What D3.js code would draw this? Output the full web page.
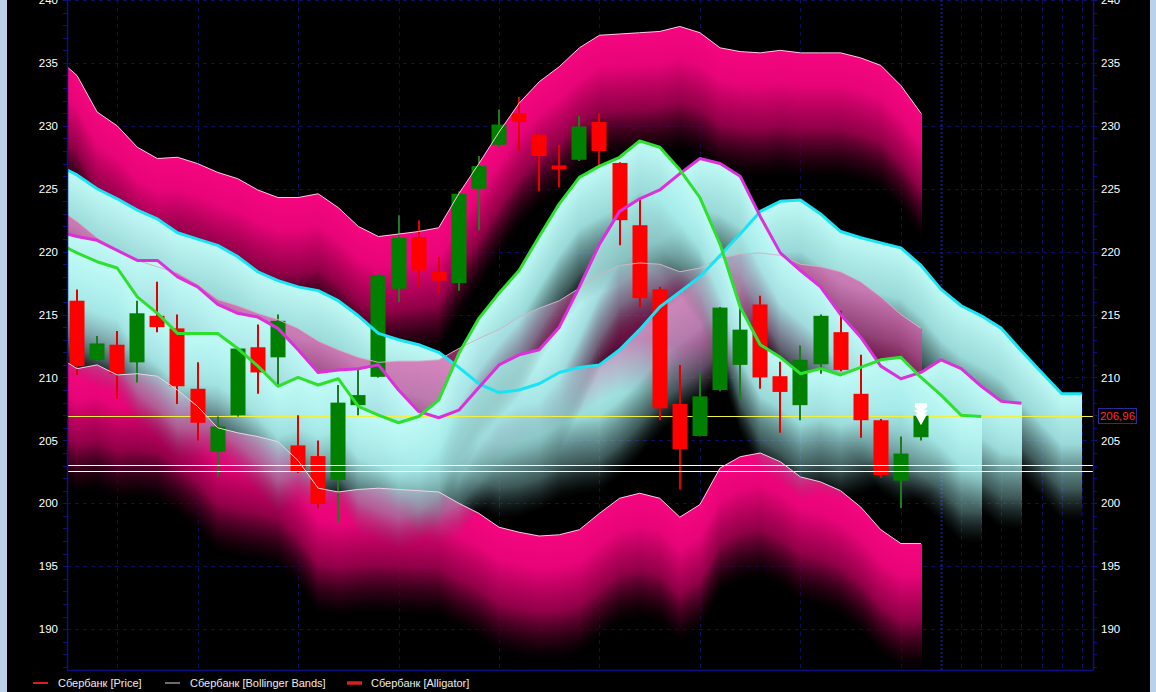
<!DOCTYPE html>
<html><head><meta charset="utf-8">
<script src="https://cdn.jsdelivr.net/npm/d3@7"></script>
<style>
html,body{margin:0;padding:0;background:#000;overflow:hidden;}
svg{display:block;font-family:"Liberation Sans",Arial,sans-serif;}
</style></head><body>
<svg id="c" width="1156" height="692"></svg>
<script>
// ---------------- DATA ----------------
// candles, bar index 0..42
const open  = [216.1,211.4,212.6,211.2,214.9,213.9,209.1,204.1,207.0,212.4,211.6,204.6,203.75,201.85,207.8,210.05,217.05,221.15,218.4,217.5,225.0,228.5,231.0,229.3,226.85,227.3,230.3,227.05,222.1,217.0,207.9,205.35,209.0,211.0,215.8,210.1,207.8,211.05,213.6,208.7,206.6,201.8,205.25];
const high  = [217.0,213.3,213.7,216.1,217.6,215.0,211.2,206.9,212.4,214.2,215.0,207.0,205.0,209.4,210.6,218.3,222.9,222.5,219.6,224.8,227.6,231.3,232.3,229.4,228.5,230.8,231.0,227.1,224.1,217.2,211.0,210.4,215.6,215.5,216.5,211.25,212.55,215.0,215.3,211.8,206.7,205.3,207.1];
const low   = [210.2,211.3,208.3,209.6,213.6,207.9,205.0,202.1,206.9,208.7,209.3,202.4,199.6,198.5,207.0,210.0,216.0,217.2,216.7,216.9,221.7,228.3,228.0,224.8,225.1,227.2,226.7,220.5,215.6,206.6,201.1,205.3,208.9,208.3,209.1,205.6,206.6,210.3,210.5,205.2,202.0,199.6,205.0];
const close = [210.9,212.7,210.3,215.1,214.0,209.3,206.4,206.1,212.3,210.4,214.5,202.5,199.95,208.0,208.6,218.1,221.1,218.5,217.7,224.6,226.8,230.1,230.3,227.6,226.55,229.95,228.0,222.5,216.3,207.55,204.3,208.5,215.55,213.8,210.0,208.85,211.4,214.9,210.6,206.6,202.25,203.95,206.96];

// Bollinger Bands, bar index -1..42
const bbUpper  = [235.4,234.0,231.1,230.0,228.3,227.4,227.5,227.0,226.3,225.8,224.9,224.3,224.3,224.6,223.5,222.0,221.2,221.4,221.6,221.9,224.6,227.0,229.5,231.8,233.5,234.7,236.2,237.2,237.3,237.4,237.5,237.9,237.4,236.2,235.9,235.8,236.0,235.8,235.8,235.8,235.4,234.8,233.2,231.0];
const bbMiddle = [223.5,222.4,221.1,220.1,219.3,218.8,218.3,217.4,216.2,215.7,215.1,214.6,213.9,212.9,212.2,211.6,211.2,211.3,211.3,211.4,212.3,213.1,213.8,214.8,215.5,216.1,217.1,218.2,218.9,219.1,219.0,218.4,218.7,219.5,219.8,219.9,219.7,219.0,218.8,218.4,217.6,216.4,215.0,213.9];
const bbLower  = [211.7,210.7,211.0,210.2,210.3,210.1,209.0,207.7,206.0,205.6,205.3,204.9,203.4,201.2,200.9,201.1,201.2,201.1,201.0,200.9,200.0,199.2,198.1,197.7,197.4,197.5,197.9,199.2,200.4,200.8,200.4,198.9,199.9,202.8,203.7,204.0,203.3,202.1,201.7,201.0,199.7,197.9,196.8,196.8];

// Alligator, bar index -1.. (shifted forward 8 / 5 / 3 bars)
const jaw   = [226.9,226.1,225.0,224.2,223.3,222.6,221.5,221.0,220.5,219.6,218.4,217.7,217.2,216.9,216.1,214.9,213.5,213.0,212.6,212.0,210.8,209.5,208.8,209.0,209.5,210.4,210.8,211.0,212.2,213.8,215.6,216.8,218.0,219.7,221.4,223.2,224.0,224.1,223.0,221.6,221.1,220.7,220.3,218.9,217.0,215.7,214.9,213.9,212.1,210.4,208.7,208.7];
const teeth = [221.6,221.2,220.9,220.1,219.3,219.3,218.0,217.2,215.8,215.1,214.8,213.9,212.2,210.4,210.6,210.7,211.0,209.0,207.3,206.8,207.4,209.2,211.0,211.8,212.2,214.0,217.2,220.6,223.2,224.2,224.9,226.2,227.4,227.0,226.0,222.8,219.9,218.5,217.2,215.0,213.2,210.9,209.9,210.4,211.4,210.7,209.3,208.1,207.95];
const lips  = [220.7,219.9,219.2,218.7,216.4,215.1,213.5,213.5,213.5,212.3,210.9,209.3,210.0,209.4,209.9,207.7,207.0,206.4,206.9,208.2,211.9,214.7,216.7,218.5,221.2,223.8,225.9,226.8,227.5,228.8,228.3,226.5,224.3,220.6,215.6,212.6,211.6,210.3,210.7,210.2,210.8,211.4,211.6,210.0,208.6,207.0,206.9];

const lastPrice = 206.96;
const levelLines = [203.05, 202.55];
const signalLevel = 207.95;           // white arrow marker on last bar
const yTickLabels = [190,195,200,205,210,215,220,225,230,235,240];
const gridBars = [2,6,11,16,21,26,31,36,41,43,44,45,46,47,48,49,50];
const legendLabels = ["Сбербанк [Price]","Сбербанк [Bollinger Bands]","Сбербанк [Alligator]"];

// ---------------- CHART ----------------
const svg = d3.select('#c');
const P = {left:67, right:1093, top:0, bottom:670};
const x = d3.scaleLinear().domain([0,42]).range([77,921]);
const y = d3.scaleLinear().domain([186.75,240]).range([670,0]);
const DEPTH = 127;

svg.append('rect').attr('width',1156).attr('height',692).attr('fill','#000');
svg.append('rect').attr('x',0).attr('y',0).attr('width',7).attr('height',692).attr('fill','#b9d1ea');
svg.append('rect').attr('x',1150).attr('y',0).attr('width',6).attr('height',692).attr('fill','#b9d1ea');

const defs = svg.append('defs');
defs.append('clipPath').attr('id','clip').append('rect')
  .attr('x',P.left).attr('y',P.top).attr('width',P.right-P.left).attr('height',P.bottom-P.top);
function grad(id, stops){
  const g = defs.append('linearGradient').attr('id',id).attr('x1',0).attr('y1',0).attr('x2',0).attr('y2',1);
  stops.forEach(s=>g.append('stop').attr('offset',s[0]).attr('stop-color',s[1]).attr('stop-opacity',s[2]));
}
grad('gPink',[[0,'#f4067e',1],[0.25,'#e80478',1],[0.6,'#a0004f',0.9],[0.85,'#380019',0.6],[1,'#100008',0]]);
grad('gCyan',[[0,'#c0faf6',1],[0.4,'#a6ecea',0.92],[0.75,'#7cb2b2',0.5],[1,'#405858',0]]);
grad('gMid',[[0,'#e8409f',0.62],[0.6,'#c8207f',0.5],[1,'#a01060',0]]);

// grid
const gridColor = '#0b0b60';
const grid = svg.append('g').attr('clip-path','url(#clip)');
grid.selectAll('line.h').data(yTickLabels).join('line')
  .attr('x1',P.left).attr('x2',P.right).attr('y1',d=>Math.round(y(d))+0.5).attr('y2',d=>Math.round(y(d))+0.5)
  .attr('stroke',gridColor).attr('stroke-dasharray','4,4');
grid.selectAll('line.v').data(gridBars).join('line')
  .attr('x1',d=>Math.round(x(d))+0.5).attr('x2',d=>Math.round(x(d))+0.5).attr('y1',P.top).attr('y2',P.bottom)
  .attr('stroke',d=>d===43?'#14148c':gridColor).attr('stroke-width',d=>d===43?2:1)
  .attr('stroke-dasharray',d=>d===43?'2,2':'4,4');

// ribbons drawn as thin vertical strips hanging below each line
const rib = svg.append('g').attr('clip-path','url(#clip)').attr('shape-rendering','crispEdges');
function ribbon(vals, start, fill){
  const xs = vals.map((v,k)=>x(start+k));
  const f = d3.scaleLinear().domain(xs).range(vals.map(v=>y(v)));
  const cols = d3.range(Math.max(P.left, Math.floor(xs[0])), Math.floor(xs[xs.length-1])+1);
  rib.append('g').selectAll('rect').data(cols).join('rect')
    .attr('x',d=>d).attr('width',1)
    .attr('y',d=>f(Math.min(d+0.5, xs[xs.length-1]))).attr('height',DEPTH)
    .attr('fill',fill);
}
ribbon(bbUpper,-1,'url(#gPink)');
ribbon(bbLower,-1,'url(#gPink)');
ribbon(jaw,-1,'url(#gCyan)');
ribbon(bbMiddle,-1,'url(#gMid)');
ribbon(teeth,-1,'url(#gCyan)');
ribbon(lips,-1,'url(#gCyan)');

const fg = svg.append('g').attr('clip-path','url(#clip)');
// last price line
fg.append('line').attr('x1',P.left).attr('x2',P.right)
  .attr('y1',Math.round(y(lastPrice))+0.5).attr('y2',Math.round(y(lastPrice))+0.5)
  .attr('stroke','#f0f040').attr('stroke-width',1);

// candles
const idx = d3.range(close.length);
const up = i=>close[i]>=open[i];
fg.append('g').selectAll('line').data(idx).join('line')
  .attr('x1',i=>Math.round(x(i))).attr('x2',i=>Math.round(x(i)))
  .attr('y1',i=>y(high[i])).attr('y2',i=>y(low[i]))
  .attr('stroke',i=>up(i)?'#1f7a1f':'#e00000').attr('stroke-width',2);
fg.append('g').selectAll('rect').data(idx).join('rect')
  .attr('x',i=>Math.round(x(i))-7.5).attr('width',15)
  .attr('y',i=>y(Math.max(open[i],close[i])))
  .attr('height',i=>Math.max(1.5,Math.abs(y(open[i])-y(close[i]))))
  .attr('fill',i=>up(i)?'#007f00':'#ff0000');

// level lines
fg.selectAll('line.lvl').data(levelLines).join('line')
  .attr('x1',P.left).attr('x2',P.right)
  .attr('y1',d=>Math.round(y(d))+0.5).attr('y2',d=>Math.round(y(d))+0.5)
  .attr('stroke','#ffffff').attr('stroke-width',1);

// Bollinger lines
const lineGen = (start)=>d3.line().x((v,k)=>x(start+k)).y(v=>y(v));
[[bbUpper,'#ffc8e4'],[bbMiddle,'#d0b4c6'],[bbLower,'#f4d0e2']].forEach(([d,c])=>{
  fg.append('path').attr('d',lineGen(-1)(d)).attr('fill','none').attr('stroke',c).attr('stroke-width',1);
});
// Alligator lines
[[jaw,'#18e4f4'],[teeth,'#dc30dc'],[lips,'#2ee02e']].forEach(([d,c])=>{
  fg.append('path').attr('d',lineGen(-1)(d)).attr('fill','none').attr('stroke',c)
    .attr('stroke-width',3).attr('stroke-linejoin','round');
});

// signal arrow on last bar
const ax = Math.round(x(close.length-1)), ay = y(signalLevel);
const arrow = d3.path();
arrow.rect(ax-6, ay, 12, 3);
[[3,7,7],[7,7,7],[11,6,11]].forEach(([dy,hw,h])=>{
  arrow.moveTo(ax-hw, ay+dy); arrow.lineTo(ax+hw, ay+dy); arrow.lineTo(ax, ay+dy+h); arrow.closePath();
});
svg.append('path').attr('d',arrow.toString()).attr('fill','#ffffff');

// axes
const axc = '#10107c';
svg.append('line').attr('x1',P.left+0.5).attr('x2',P.left+0.5).attr('y1',0).attr('y2',P.bottom).attr('stroke',axc).attr('stroke-width',1.5);
svg.append('line').attr('x1',P.right+0.5).attr('x2',P.right+0.5).attr('y1',0).attr('y2',P.bottom).attr('stroke',axc).attr('stroke-width',1.5);
svg.append('line').attr('x1',P.left).attr('x2',P.right).attr('y1',P.bottom+0.5).attr('y2',P.bottom+0.5).attr('stroke',axc).attr('stroke-width',1.5);
const minor = d3.range(187,241);
svg.append('g').selectAll('line').data(minor).join('line')
  .attr('x1',P.left-4).attr('x2',P.left).attr('y1',d=>Math.round(y(d))+0.5).attr('y2',d=>Math.round(y(d))+0.5).attr('stroke',axc);
svg.append('g').selectAll('line').data(minor).join('line')
  .attr('x1',P.right).attr('x2',P.right+4).attr('y1',d=>Math.round(y(d))+0.5).attr('y2',d=>Math.round(y(d))+0.5).attr('stroke',axc);

const yAxisL = d3.axisLeft(y).tickValues(yTickLabels).tickSize(0).tickPadding(9);
const gl = svg.append('g').attr('transform',`translate(${P.left},0)`).call(yAxisL);
const yAxisR = d3.axisRight(y).tickValues(yTickLabels).tickSize(0).tickPadding(8);
const gr = svg.append('g').attr('transform',`translate(${P.right},0)`).call(yAxisR);
[gl,gr].forEach(g=>{
  g.select('.domain').remove();
  g.selectAll('text').attr('fill','#ffffff').attr('font-size',11.5).attr('font-family','"Liberation Sans",Arial,sans-serif');
});

// last price label
const ly = Math.round(y(lastPrice));
svg.append('rect').attr('x',1098.5).attr('y',ly-7.5).attr('width',38).attr('height',15)
  .attr('fill','#000').attr('stroke','#2a2a9a');
svg.append('text').attr('x',1117.5).attr('y',ly+4).attr('text-anchor','middle')
  .attr('fill','#ff2a2a').attr('font-size',11.5).text(lastPrice.toFixed(2).replace('.',','));

// legend
const legendStyle = [
  {x1:33,x2:48,c:'#d81e1e',w:2,tx:58},
  {x1:165,x2:180,c:'#d8d8d8',w:1,tx:190},
  {x1:347,x2:362,c:'#d81e1e',w:3.5,tx:371}
];
const lg = svg.append('g');
legendLabels.forEach((t,k)=>{
  const s = legendStyle[k];
  lg.append('line').attr('x1',s.x1).attr('x2',s.x2).attr('y1',683).attr('y2',683).attr('stroke',s.c).attr('stroke-width',s.w);
  lg.append('text').attr('x',s.tx).attr('y',687).attr('fill','#ececec').attr('font-size',11).text(t);
});
</script>
</body></html>
